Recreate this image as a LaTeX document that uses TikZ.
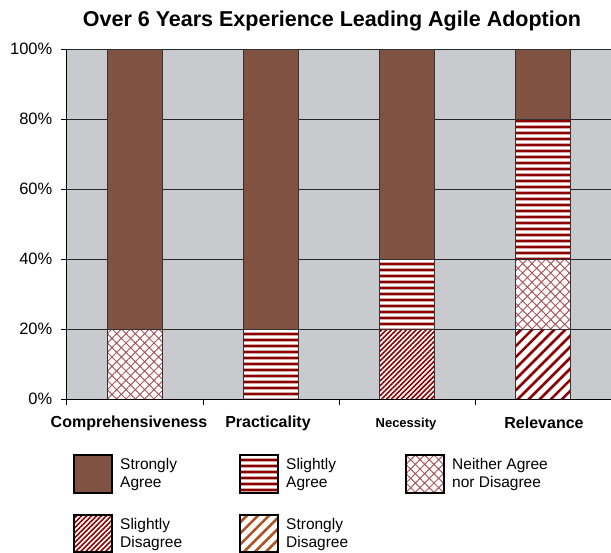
\documentclass[tikz,border=0pt]{standalone}
\usepackage{fontspec}
\setmainfont{Liberation Sans}
\usetikzlibrary{patterns.meta}

\definecolor{plotgray}{RGB}{201,202,205}
\definecolor{sabrown}{RGB}{128,82,66}
\definecolor{stripered}{RGB}{139,0,0}
\definecolor{hatchred}{RGB}{172,88,94}
\definecolor{sdbrown}{RGB}{172,84,36}

\tikzset{
  gridline/.style={draw=black!85, line width=0.8pt},
  axisline/.style={draw=black, line width=0.9pt},
  seg/.style={draw=black!80, line width=0.7pt},
  sagree/.style={seg, fill=sabrown},
  slagree/.style={seg, preaction={fill=white},
    pattern={Lines[angle=0,distance=6.4pt,line width=3pt]}, pattern color=stripered},
  neither/.style={seg, preaction={fill=white},
    pattern={Hatch[angle=45,distance=6.6pt,line width=1pt]}, pattern color=hatchred},
  sldisagree/.style={seg, preaction={fill=white},
    pattern={Lines[angle=45,distance=3.5pt,line width=1.6pt]}, pattern color=stripered},
  stdisagree/.style={seg, preaction={fill=white},
    pattern={Lines[angle=45,distance=7.8pt,line width=2.6pt]}, pattern color=stripered},
  legbox/.style={draw=black, line width=1.3pt},
  ylabel/.style={anchor=east, inner sep=0pt, font=\fontsize{16.5}{18}\selectfont},
  catlabel/.style={inner sep=0pt, font=\fontsize{16}{18}\selectfont\bfseries},
  legtext/.style={anchor=west, align=left, inner sep=0pt, font=\fontsize{15.5}{18}\selectfont}
}

\begin{document}
\begin{tikzpicture}[x=1pt,y=-1pt]
    \useasboundingbox[fill=white] (0,0) rectangle (611,553);

    \node[font=\fontsize{21.5}{24}\selectfont\bfseries] (title) at (332,21) {Over 6 Years Experience Leading Agile Adoption};

    % plot area and grid
    \fill[plotgray] (66,49) rectangle (611,399);
    \foreach \y in {49,119,189,259,329}
        \draw[gridline] (66,\y) -- (611,\y);

    % Comprehensiveness
    \draw[neither] (107.5,399) rectangle (162.5,329);
    \draw[sagree] (107.5,329) rectangle (162.5,49);

    % Practicality
    \draw[slagree] (243.5,399) rectangle (298.5,329);
    \draw[sagree] (243.5,329) rectangle (298.5,49);

    % Necessity
    \draw[sldisagree] (379.5,399) rectangle (434.5,329);
    \draw[slagree] (379.5,329) rectangle (434.5,259);
    \draw[sagree] (379.5,259) rectangle (434.5,49);

    % Relevance
    \draw[stdisagree] (515.5,399) rectangle (570.5,329);
    \draw[neither] (515.5,329) rectangle (570.5,259);
    \draw[slagree] (515.5,259) rectangle (570.5,119);
    \draw[sagree] (515.5,119) rectangle (570.5,49);

    % axes
    \draw[axisline] (66,49) -- (66,399) -- (611,399);
    \foreach \y/\l in {49/100,119/80,189/60,259/40,329/20,399/0} {
        \draw[axisline] (61,\y) -- (66,\y);
        \node[ylabel] (y\l) at (52.5,\y) {\l\%};
    }
    \foreach \x in {66,203,339,475}
        \draw[axisline] (\x,399) -- (\x,405);

    \node[catlabel] (comp) at (129,423) {Comprehensiveness};
    \node[catlabel] (prac) at (268,423) {Practicality};
    \node[catlabel, font=\fontsize{13}{15}\selectfont\bfseries] (nece) at (406,424) {Necessity};
    \node[catlabel] (rele) at (544,423) {Relevance};

    % legend
    \draw[legbox, fill=sabrown] (74,455) rectangle (112,493);
    \node[legtext] (lsa) at (120,474) {Strongly\\Agree};

    \draw[legbox, preaction={fill=white}, pattern={Lines[angle=0,distance=6.4pt,line width=3pt]}, pattern color=stripered] (240,455) rectangle (278,493);
    \node[legtext] (lsl) at (286,474) {Slightly\\Agree};

    \draw[legbox, preaction={fill=white}, pattern={Hatch[angle=45,distance=6.6pt,line width=1pt]}, pattern color=hatchred] (406,455) rectangle (444,493);
    \node[legtext] (lne) at (452,474) {Neither Agree\\nor Disagree};

    \draw[legbox, preaction={fill=white}, pattern={Lines[angle=45,distance=3.5pt,line width=1.6pt]}, pattern color=stripered] (74,515) rectangle (112,552);
    \node[legtext] (lsd) at (120,534) {Slightly\\Disagree};

    \draw[legbox, preaction={fill=white}, pattern={Lines[angle=45,distance=7.8pt,line width=2.6pt]}, pattern color=sdbrown] (240,515) rectangle (278,552);
    \node[legtext] (lst) at (286,534) {Strongly\\Disagree};

\end{tikzpicture}
\end{document}
